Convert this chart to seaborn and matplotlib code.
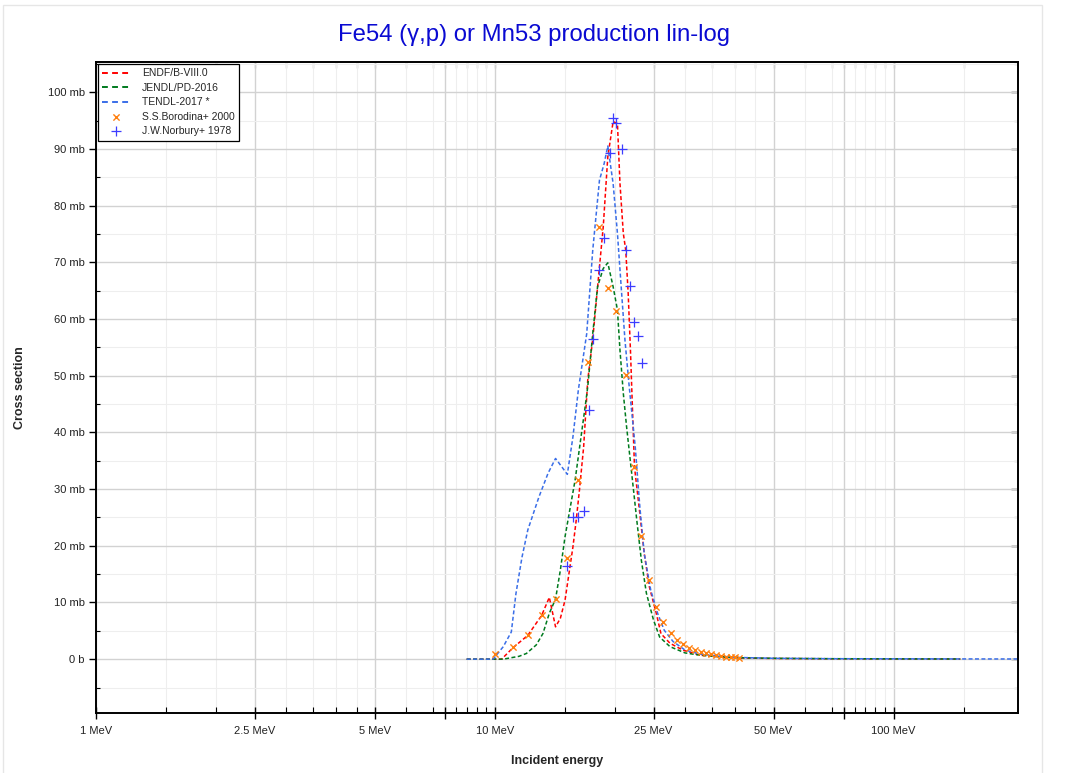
import numpy as np
import pandas as pd
import matplotlib
matplotlib.use("Agg")
import matplotlib.pyplot as plt
import matplotlib.ticker as mticker
from matplotlib.patches import Rectangle
import seaborn as sns

# evaluated data (energy in MeV, cross section in mb)
endf_e = [8.5, 10.4, 11.1, 12.1, 13.1, 13.7, 14.2, 14.6, 15.0, 15.3, 15.7, 16.0, 16.3, 16.7, 17.1,
          17.6, 18.3, 18.7, 19.2, 19.8, 20.3, 20.6, 21.0, 21.3, 21.6, 21.9, 22.1, 22.4, 23.1, 23.7,
          24.4, 25.4, 26.1, 27.5, 29.6, 32.7, 37.0, 41.0, 50.0, 70.0, 100.0, 147.0]
endf_y = [0.0, 0.0, 2.0, 4.2, 7.7, 10.9, 5.7, 7.2, 10.4, 14.5, 19.8, 24.5, 29.8, 37.4, 49.2,
          56.4, 69.2, 76.2, 88.6, 94.8, 94.5, 83.9, 75.1, 72.1, 64.5, 53.9, 45.7, 33.9, 25.7, 18.6,
          12.8, 8.1, 4.5, 2.8, 1.6, 0.7, 0.4, 0.2, 0.12, 0.07, 0.05, 0.03]

jendl_e = [8.5, 10.5, 11.5, 12.0, 12.7, 13.2, 13.7, 14.2, 14.6, 15.0, 15.3, 15.9, 16.8, 17.1,
           17.6, 18.1, 18.7, 19.2, 19.8, 20.3, 20.6, 21.0, 21.4, 22.0, 22.7, 23.3, 24.0, 25.0,
           25.9, 27.5, 30.0, 32.7, 37.0, 41.0, 50.0, 70.0, 100.0, 147.0]
jendl_y = [0.0, 0.0, 0.5, 1.0, 2.5, 4.5, 8.1, 10.6, 15.7, 21.6, 25.0, 31.6, 43.9, 48.0,
           57.4, 65.7, 68.9, 69.9, 65.7, 61.6, 54.5, 46.9, 41.0, 33.3, 24.5, 17.5, 11.6, 6.9,
           3.9, 2.2, 1.1, 0.7, 0.4, 0.25, 0.15, 0.08, 0.05, 0.03]

tendl_e = [8.5, 9.9, 10.5, 11.0, 11.3, 11.7, 12.1, 12.9, 13.6, 14.2, 15.2, 15.7, 16.2, 17.0,
           17.6, 18.3, 18.8, 19.2, 19.8, 20.3, 20.8, 21.2, 21.7, 22.5, 23.1, 23.7, 24.6, 25.6,
           26.6, 28.0, 30.0, 32.7, 37.0, 41.0, 50.0, 70.0, 100.0, 150.0, 205.0]
tendl_y = [0.0, 0.0, 2.2, 4.8, 11.6, 18.0, 22.8, 28.6, 32.8, 35.4, 32.6, 39.2, 47.5, 57.4,
           72.1, 84.5, 87.4, 90.5, 83.9, 75.1, 64.5, 56.3, 48.5, 37.4, 26.9, 18.6, 12.2, 8.1,
           5.1, 3.1, 1.6, 0.9, 0.5, 0.3, 0.15, 0.08, 0.06, 0.04, 0.03]

# experimental data
borodina_e = [10.0, 11.1, 12.1, 13.1, 14.2, 15.2, 16.2, 17.1, 18.3, 19.2, 20.1, 21.3, 22.4, 23.3,
              24.3, 25.4, 26.4, 27.6, 28.7, 29.7, 30.7, 31.8, 32.8, 33.9, 34.9, 35.9, 36.9, 37.9,
              39.0, 40.0, 41.0]
borodina_y = [0.9, 2.2, 4.3, 7.7, 10.6, 17.9, 31.6, 52.4, 76.2, 65.5, 61.4, 50.1, 33.9, 21.7,
              13.9, 9.2, 6.5, 4.7, 3.4, 2.6, 2.0, 1.6, 1.3, 1.0, 0.85, 0.67, 0.55, 0.45,
              0.37, 0.3, 0.25]

norbury_e = [15.2, 15.7, 16.2, 16.7, 17.2, 17.6, 18.3, 18.8, 19.4, 19.8, 20.1, 20.8, 21.3,
             21.8, 22.3, 22.8, 23.4]
norbury_y = [16.5, 25.0, 25.0, 26.1, 43.9, 56.4, 68.7, 74.3, 89.2, 95.5, 94.5, 89.9, 72.1,
             65.9, 59.4, 57.0, 52.2]

xmaj = [1, 2.5, 5, 7.5, 10, 25, 50, 75, 100]
xlab = {1: "1 MeV", 2.5: "2.5 MeV", 5: "5 MeV", 10: "10 MeV", 25: "25 MeV", 50: "50 MeV", 100: "100 MeV"}
xmin = [1.5, 2, 3, 3.5, 4, 4.5, 6, 7, 8, 8.5, 9, 9.5,
        15, 20, 30, 35, 40, 45, 60, 70, 80, 85, 90, 95, 150]

sns.set_theme(style="whitegrid")
plt.rcParams["font.family"] = ["Liberation Sans", "DejaVu Sans"]

fig = plt.figure(figsize=(10.67, 7.73), dpi=100)
ax = fig.add_axes([0.09, 0.0776, 0.864, 0.842])

dash = (2.6, 1.6)
sns.lineplot(x=endf_e, y=endf_y, ax=ax, color="#ff0000", lw=1.1,
             sort=False, estimator=None, label="ENDF/B-VIII.0").lines[-1].set_dashes(dash)
sns.lineplot(x=jendl_e, y=jendl_y, ax=ax, color="#007a1e", lw=1.1,
             sort=False, estimator=None, label="JENDL/PD-2016").lines[-1].set_dashes(dash)
sns.lineplot(x=tendl_e, y=tendl_y, ax=ax, color="#3a6ee8", lw=1.1,
             sort=False, estimator=None, label="TENDL-2017 *").lines[-1].set_dashes(dash)
sns.scatterplot(x=borodina_e, y=borodina_y, ax=ax, marker="x", s=20, color="#ff7f0e",
                linewidth=1.0, label="S.S.Borodina+ 2000", zorder=5)
sns.scatterplot(x=norbury_e, y=norbury_y, ax=ax, marker="+", s=45, color="#3c3cff",
                linewidth=0.9, label="J.W.Norbury+ 1978", zorder=5)

ax.set_xscale("log")
ax.set_xlim(1, 205)
ax.set_ylim(-9.5, 105.3)

ax.xaxis.set_major_locator(mticker.FixedLocator(xmaj))
ax.xaxis.set_major_formatter(mticker.FixedFormatter([xlab.get(v, "") for v in xmaj]))
ax.xaxis.set_minor_locator(mticker.FixedLocator(xmin))
ax.xaxis.set_minor_formatter(mticker.NullFormatter())

ax.yaxis.set_major_locator(mticker.MultipleLocator(10))
ax.yaxis.set_minor_locator(mticker.MultipleLocator(5))
ax.yaxis.set_major_formatter(mticker.FuncFormatter(lambda v, p: "0 b" if abs(v) < 1e-9 else f"{v:.0f} mb"))

ax.grid(True, which="major", color="#d2d2d2", lw=1.0)
ax.grid(True, which="minor", color="#eeeeee", lw=0.8)
ax.set_axisbelow(True)

for s in ax.spines.values():
    s.set_color("black")
    s.set_linewidth(1.4)

# left / bottom ticks
ax.tick_params(axis="y", which="major", direction="out", length=5, width=1, colors="black",
               labelsize=8, labelcolor="#222222", left=True, right=False, pad=3)
ax.tick_params(axis="y", which="minor", direction="in", length=3, width=0.8, colors="black",
               left=True, right=False)
ax.tick_params(axis="x", which="major", direction="inout", length=8, width=1, colors="black",
               labelsize=8, labelcolor="#222222", bottom=True, top=False, pad=5)
ax.tick_params(axis="x", which="minor", direction="in", length=4, width=0.8, colors="black",
               bottom=True, top=False)

# top / right ticks pointing inward
top = ax.secondary_xaxis("top")
top.xaxis.set_major_locator(mticker.FixedLocator(xmaj))
top.xaxis.set_minor_locator(mticker.FixedLocator(xmin))
top.xaxis.set_major_formatter(mticker.NullFormatter())
top.xaxis.set_minor_formatter(mticker.NullFormatter())
top.tick_params(which="both", direction="in", length=4, width=0.8, colors="black")
top.spines["top"].set_linewidth(1.4)

right = ax.secondary_yaxis("right")
right.yaxis.set_major_locator(mticker.MultipleLocator(10))
right.yaxis.set_minor_locator(mticker.MultipleLocator(5))
right.yaxis.set_major_formatter(mticker.NullFormatter())
right.tick_params(which="major", direction="in", length=5, width=1, colors="black")
right.tick_params(which="minor", direction="in", length=3, width=0.8, colors="black")
right.spines["right"].set_linewidth(1.4)

ax.set_xlabel("Incident energy", fontsize=9, fontweight="bold", labelpad=14)
ax.set_ylabel("Cross section", fontsize=9, fontweight="bold", labelpad=16)

fig.text(0.5, 0.955, "Fe54 (γ,p) or Mn53 production lin-log", ha="center", va="center",
         fontsize=17.2, color="#0a0ad2")

leg = ax.legend(loc="upper left", fontsize=7.5, frameon=True, fancybox=False,
                borderaxespad=0.15, handlelength=2.6, labelspacing=0.42, borderpad=0.45,
                handletextpad=1.2)
leg.get_frame().set_edgecolor("black")
leg.get_frame().set_linewidth(0.9)
leg.get_frame().set_facecolor("white")
leg.get_frame().set_alpha(1)
for ln in leg.get_lines()[:3]:
    ln.set_linewidth(1.4)
    ln.set_dashes((3.0, 2.2))

fig.add_artist(Rectangle((0.003, -0.01), 0.9735, 1.004, transform=fig.transFigure,
                         fill=False, edgecolor="#e6e6e6", lw=1.0))

fig.savefig("out.png", dpi=100)
